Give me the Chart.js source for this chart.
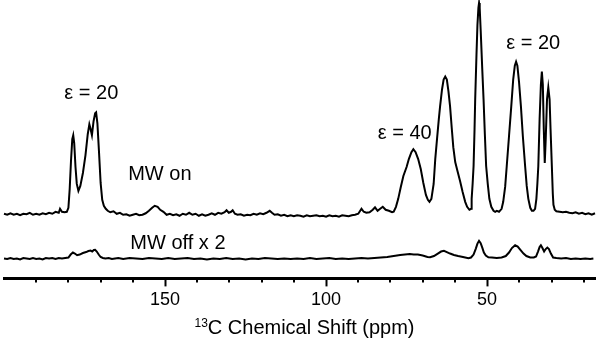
<!DOCTYPE html>
<html>
<head>
<meta charset="utf-8">
<script src="https://cdn.jsdelivr.net/npm/chart.js@4.4.0/dist/chart.umd.min.js"></script>
<style>
  html, body { margin: 0; padding: 0; background: #fff; }
  #wrap { width: 601px; height: 342px; }
</style>
</head>
<body>
<div id="wrap"><canvas id="c" width="601" height="342"></canvas></div>
<script>
// ---- Data ----
// Chemical shift positions (ppm) and intensities (arbitrary units) for "MW on"
const mwOnPpm = [200,199,198,197,196,195,194,193,192,191,190,189,188,187,186,185,184,183,182.6,182,181.2,180.5,180,179.6,179.2,178.8,178.5,178.2,177.8,177.4,176.9,176.3,175.5,174.7,174.0,173.5,173.1,172.7,172.2,171.7,171.4,171.0,170.5,170.0,169.5,169.0,168.4,167.8,167,166,165,164,163,162,161,160,159,158,157,156,155,154,153.2,152.3,151.5,150.5,149.5,148.5,147.5,146.5,145.5,144.5,143.5,142.5,141.5,140.5,139.5,138.5,137.5,136.5,135.5,134.5,133.5,132.5,131.5,130.9,130.2,129.5,129,128.3,127.5,126.5,125.5,124.5,123.5,122.5,121.5,120.5,119.5,118.5,117.5,116.8,116,115,114,113,112,111,110,109,108,107,106,105,104,103,102,101,100,99,98,97,96,95,94,93,92,91,90,89,88.3,87.5,86.5,85.5,84.8,84,83.2,82.4,81.5,80.5,79.5,79,78.3,77.6,76.8,76,75,74.3,73.5,72.9,72.2,71.4,70.6,69.8,69,68.4,67.9,67.3,66.6,66.1,65.5,65,64.6,64,63.5,63,62.5,62,61.5,61,60.5,59.9,59.2,58.4,57.6,56.8,56.2,55.5,55,54.8,54.5,54.2,53.9,53.7,53.3,53,52.7,52.5,52.3,52,51.5,51.1,50.7,50.3,49.8,49.3,48.7,48,47.5,47,46.3,45.5,45,44.4,43.9,43.2,42.5,41.9,41.4,41,40.6,40.1,39.5,38.9,38.2,37.7,37.2,36.6,36.1,35.6,35.1,34.7,34.4,34.1,33.7,33.3,33,32.7,32.4,32.1,31.8,31.4,31,30.6,30.3,29.9,29.6,29.4,29,28.5,27.5,26.5,25.5,24.5,23.5,22.5,21.5,20.5,19.5,18.5,17.5,16.5];
const mwOnVal = [65,64,65.5,64,65,63.5,65,64.5,66,64,65,64,65.5,64.5,66,65,67,66,70,67,66.5,67,71,90,118,140,144,136,112,95,88,93,106,124,145,155,150,144,158,166,167,156,127,96,79,73,70,68,66.5,67.5,65,66,64,64.5,63,64,65,63.5,64,65.5,68,71,73,72,69,67,64,65,63.5,64.5,63,65,64,66,64,65,63,64.5,63,64,65.5,64,66,65,66.5,68.5,66,67,68.5,65,64,64.5,63,64,63.5,65,64,65.5,64.5,66,68,66,64,64.5,63,64,62.5,63.5,62.5,63.5,63,62,63.5,62.5,63,63.5,62.5,63,62,63.5,62.5,63,62,63.5,63,62.5,63.5,64,65,70,67,66,66.5,69,71.5,68,70,72,69,68,66.5,67,72,80,92,103,112,120,127,130,127,120,110,96,84,79,77,80,95,120,142,160,173,190,200,203,200,188,173,152,132,117,108,98,87,77,72,69,70,80,95,113,150,180,225,255,272,277,272,250,210,180,145,113,95,80,72,68,67,68,67,70,77,92,113,143,173,200,214,218,214,198,173,143,113,93,80,71,68,68,70,80,95,113,160,195,208,195,150,116,140,180,192,180,150,113,85,74,69,67.5,67,66.5,67,66,65.5,66.5,65,66,64.5,65.5,64,65.5];

// "MW off x 2"
const mwOffPpm = [200,199,198,197,196,195,194,193,192,191,190,189,188,187,186,185,184,183,182,181,180,179.3,178.6,178,177.3,176.5,175.5,174.5,173.8,173.1,172.6,172.1,171.7,171.2,170.6,170,169.3,168.5,167.5,166.5,165.5,164.5,163,161,159,157,155,153,151,149,147,145,143,141,139,137,135,133,131,129,127,125,123,121,119,117,115,113,111,109,107,105,103,101,99,97,95,93,91,89,87,85,83,81,79,77,75.5,74,72.8,71.5,70,68.5,67.7,66.5,65.3,64.3,63.4,62.5,61.5,60.3,59,57.5,55.8,55,54.2,53.5,53,52.5,52,51.5,51,50.4,49.6,48.5,47,45.5,44.2,43.2,42.3,41.3,40.5,39.6,38.7,37.8,36.6,35.5,34.8,34.2,33.7,33.3,32.9,32.3,31.8,31.3,30.8,30.2,29.5,28.5,27,25.5,24,22.5,21,19.5,18,17];
const mwOffVal = [20,19.5,20.5,19.5,20,19,20.5,20,19.5,20.5,19.5,20,19,20.5,20,20.5,19.5,20.5,20,20.5,21,24,26,25,23.3,24,25.5,26.5,27.5,28,27,28.5,28.7,27,24,21.5,20.5,20,20.5,19.5,20,20.5,19.5,20.5,20,19.5,20.5,20,19.5,20.5,19.5,20,20.5,19.5,20,19,20,19.5,20.5,19.5,20,19,20,19.5,20.5,20,19.5,20,19.5,20,19.5,20.5,19.5,20,20.5,19.5,20,19.5,20,20.5,20,20.5,21,21.5,22.5,23.5,24,24.5,24,24,23,21.5,21.3,22.5,25,27,27.7,26.5,25,23.5,22.5,21.5,20.3,21,24,30,35,37.7,35.5,31,26,23,21.3,21,20.5,21,22.5,26,30.5,33.3,32,28.5,25,22.5,21,21,22,27,31.5,33.3,31,27,29.5,31,29.5,25,21,20.5,20,20.5,19.5,20,19.5,20,19.5,20];

// Axis ticks
const majorTicks = [150, 100, 50];
const minorTicks = [190,180,170,160,140,130,120,110,90,80,70,60,40,30,20];

// Annotations: text with anchor in data coordinates (ppm, intensity)
const annotText = ['\u03B5 = 20', 'MW on', '\u03B5 = 40', '\u03B5 = 20', 'MW off x 2'];
const annotPpm  = [172.9, 151.6, 75.6, 35.7, 146.0];
const annotVal  = [185.7, 105, 146, 236.7, 35];

const FONT = '"Liberation Sans", Arial, Helvetica, sans-serif';
Chart.defaults.font.family = FONT;
Chart.defaults.color = '#000';

const toXY = (xs, ys) => xs.map((x, i) => ({x: x, y: ys[i]}));

const extrasPlugin = {
  id: 'extras',
  afterDraw(chart) {
    const ctx = chart.ctx;
    const xs = chart.scales.x, ys = chart.scales.y;
    const area = chart.chartArea;
    ctx.save();
    // minor ticks
    ctx.strokeStyle = '#000';
    ctx.lineWidth = 2;
    minorTicks.forEach(v => {
      const px = Math.round(xs.getPixelForValue(v));
      ctx.beginPath();
      ctx.moveTo(px, area.bottom);
      ctx.lineTo(px, area.bottom + 4);
      ctx.stroke();
    });
    // annotations
    ctx.fillStyle = '#000';
    ctx.textAlign = 'center';
    ctx.textBaseline = 'middle';
    ctx.font = '20px ' + FONT;
    annotText.forEach((t, i) => {
      ctx.fillText(t, xs.getPixelForValue(annotPpm[i]), ys.getPixelForValue(annotVal[i]));
    });
    // axis title with superscript
    const sup = '13', main = 'C Chemical Shift (ppm)';
    ctx.font = '20px ' + FONT;
    const wMain = ctx.measureText(main).width;
    ctx.font = '12px ' + FONT;
    const wSup = ctx.measureText(sup).width;
    const cx = (area.left + area.right) / 2 + 5;
    const startX = cx - (wMain + wSup) / 2;
    const baseY = 334;
    ctx.textAlign = 'left';
    ctx.textBaseline = 'alphabetic';
    ctx.fillText(sup, startX, baseY - 7);
    ctx.font = '20px ' + FONT;
    ctx.fillText(main, startX + wSup, baseY);
    ctx.restore();
  }
};

new Chart(document.getElementById('c'), {
  type: 'scatter',
  data: {
    datasets: [
      { label: 'MW on', data: toXY(mwOnPpm, mwOnVal), showLine: true, borderColor: '#000', borderWidth: 2, pointRadius: 0, tension: 0, clip: false },
      { label: 'MW off x 2', data: toXY(mwOffPpm, mwOffVal), showLine: true, borderColor: '#000', borderWidth: 2, pointRadius: 0, tension: 0, clip: false }
    ]
  },
  options: {
    responsive: false,
    animation: false,
    events: [],
    layout: { padding: { left: 4, right: 6, top: 0, bottom: 28 } },
    plugins: { legend: { display: false }, tooltip: { enabled: false } },
    scales: {
      x: {
        type: 'linear',
        reverse: true,
        min: 16.5,
        max: 200,
        afterBuildTicks: (scale) => { scale.ticks = majorTicks.map(v => ({ value: v })); },
        ticks: { font: { size: 18 }, color: '#000', padding: 3, maxRotation: 0, autoSkip: false },
        grid: { display: true, drawOnChartArea: false, drawTicks: true, tickLength: 8, tickWidth: 2, tickColor: '#000' },
        border: { display: true, color: '#000', width: 3 }
      },
      y: {
        display: false,
        min: 0,
        max: 280
      }
    }
  },
  plugins: [extrasPlugin]
});
</script>
</body>
</html>
